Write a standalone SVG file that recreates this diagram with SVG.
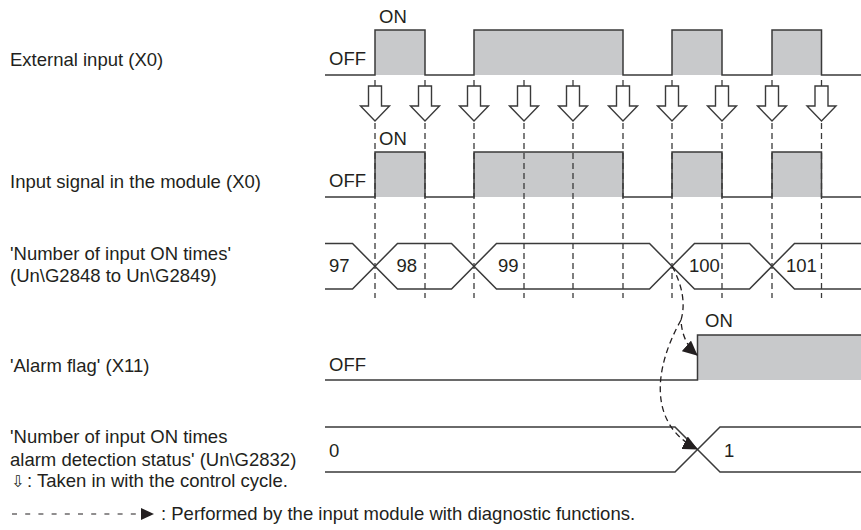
<svg xmlns="http://www.w3.org/2000/svg" width="861" height="530" viewBox="0 0 861 530">
<style>
text{font-family:"Liberation Sans",Arial,"DejaVu Sans",sans-serif;font-size:18.5px;fill:#231f20}
.w{fill:none;stroke:#3a3a3a;stroke-width:1.5;stroke-linejoin:miter}
.g{fill:#c8c9cb;stroke:none}
.d{stroke:#3a3a3a;stroke-width:1.3;stroke-dasharray:6 4;fill:none}
.t{stroke:#3a3a3a;stroke-width:1.3}
.ar{fill:#fff;stroke:#3a3a3a;stroke-width:1.4;stroke-linejoin:miter}
.c{fill:none;stroke:#231f20;stroke-width:1.3;stroke-dasharray:6 4}
</style>
<defs>
<marker id="ah" markerUnits="userSpaceOnUse" markerWidth="16" markerHeight="14" refX="14" refY="7" orient="auto" viewBox="0 0 16 14">
<path d="M0,0 L15,7 L0,14 z" fill="#231f20"/>
</marker>
<marker id="ah2" markerUnits="userSpaceOnUse" markerWidth="14" markerHeight="12" refX="1" refY="6" orient="auto" viewBox="0 0 14 12">
<path d="M0,0 L13,6 L0,12 z" fill="#231f20"/>
</marker>
<polygon id="hollow" points="-6.5,86 6.5,86 6.5,106 14.5,106 0,121 -14.5,106 -6.5,106" class="ar"/>
</defs>

<g id="labels">
<text x="10" y="66">External input (X0)</text>
<text x="10" y="188">Input signal in the module (X0)</text>
<text x="10" y="260">'Number of input ON times'</text>
<text x="10" y="282">(Un\G2848 to Un\G2849)</text>
<text x="10" y="372">'Alarm flag' (X11)</text>
<text x="10" y="443">'Number of input ON times</text>
<text x="10" y="466">alarm detection status' (Un\G2832)</text>
</g>

<g id="external-input">
<rect class="g" x="375" y="30" width="50" height="45"/>
<rect class="g" x="474" y="30" width="149" height="45"/>
<rect class="g" x="672" y="30" width="50" height="45"/>
<rect class="g" x="772" y="30" width="49.5" height="45"/>
<path class="w" d="M325,75 H375 V30 H425 V75 H474 V30 H623 V75 H672 V30 H722 V75 H772 V30 H821.5 V75 H861"/>
<text x="379" y="23">ON</text>
<text x="329" y="65">OFF</text>
</g>

<g id="module-input">
<rect class="g" x="375" y="152" width="50" height="45"/>
<rect class="g" x="474" y="152" width="149" height="45"/>
<rect class="g" x="672" y="152" width="50" height="45"/>
<rect class="g" x="772" y="152" width="49.5" height="45"/>
<path class="w" d="M325,197 H375 V152 H425 V197 H474 V152 H623 V197 H672 V152 H722 V197 H772 V152 H821.5 V197 H861"/>
<text x="379" y="145">ON</text>
<text x="329" y="187">OFF</text>
</g>

<g id="sampling">
<g id="ticks">
<line class="t" x1="375" y1="80" x2="375" y2="86"/>
<line class="t" x1="425" y1="80" x2="425" y2="86"/>
<line class="t" x1="474" y1="80" x2="474" y2="86"/>
<line class="t" x1="524" y1="80" x2="524" y2="86"/>
<line class="t" x1="573" y1="80" x2="573" y2="86"/>
<line class="t" x1="623" y1="80" x2="623" y2="86"/>
<line class="t" x1="672" y1="80" x2="672" y2="86"/>
<line class="t" x1="722" y1="80" x2="722" y2="86"/>
<line class="t" x1="772" y1="80" x2="772" y2="86"/>
<line class="t" x1="821.5" y1="80" x2="821.5" y2="86"/>
</g>
<use href="#hollow" x="375"/>
<use href="#hollow" x="425"/>
<use href="#hollow" x="474"/>
<use href="#hollow" x="524"/>
<use href="#hollow" x="573"/>
<use href="#hollow" x="623"/>
<use href="#hollow" x="672"/>
<use href="#hollow" x="722"/>
<use href="#hollow" x="772"/>
<use href="#hollow" x="821.5"/>
<g id="dashes">
<line class="d" x1="375" y1="123" x2="375" y2="298"/>
<line class="d" x1="425" y1="123" x2="425" y2="298"/>
<line class="d" x1="474" y1="123" x2="474" y2="298"/>
<line class="d" x1="524" y1="123" x2="524" y2="298"/>
<line class="d" x1="573" y1="123" x2="573" y2="298"/>
<line class="d" x1="623" y1="123" x2="623" y2="298"/>
<line class="d" x1="672" y1="123" x2="672" y2="298"/>
<line class="d" x1="722" y1="123" x2="722" y2="298"/>
<line class="d" x1="772" y1="123" x2="772" y2="298"/>
<line class="d" x1="821.5" y1="123" x2="821.5" y2="298"/>
</g>
</g>

<g id="on-count">
<polyline class="w" points="325,243.5 352.5,243.5 397.5,289 451.5,289 496.5,243.5 649.5,243.5 694.5,289 749.5,289 794.5,243.5 861,243.5"/>
<polyline class="w" points="325,289 352.5,289 397.5,243.5 451.5,243.5 496.5,289 649.5,289 694.5,243.5 749.5,243.5 794.5,289 861,289"/>
<text x="329" y="272">97</text>
<text x="396.5" y="272">98</text>
<text x="498" y="272">99</text>
<text x="689" y="272">100</text>
<text x="786" y="272">101</text>
</g>

<g id="alarm-flag">
<rect class="g" x="697.5" y="335" width="163.5" height="45"/>
<path class="w" d="M325,380 H697.5 V335 H861"/>
<text x="705" y="327">ON</text>
<text x="329" y="371">OFF</text>
</g>

<g id="alarm-status">
<polyline class="w" points="325,427 675,427 720,472 861,472"/>
<polyline class="w" points="325,472 675,472 720,427 861,427"/>
<text x="329" y="457">0</text>
<text x="724" y="457">1</text>
</g>

<g id="connectors">
<path class="c" d="M672,266 Q688,296 681,320 Q682,342 697,355" marker-end="url(#ah)"/>
<path class="c" d="M681,320 C652,372 650,425 697,449" marker-end="url(#ah)"/>
</g>

<g id="legend">
<text y="487"><tspan x="11" font-size="16" style="font-family:'DejaVu Sans',sans-serif">⇩</tspan><tspan x="27">: Taken in with the control cycle.</tspan></text>
<line x1="12" y1="514" x2="142" y2="514" stroke="#231f20" stroke-width="1.2" stroke-dasharray="5 8.2" marker-end="url(#ah2)"/>
<text x="161" y="520">: Performed by the input module with diagnostic functions.</text>
</g>
</svg>
